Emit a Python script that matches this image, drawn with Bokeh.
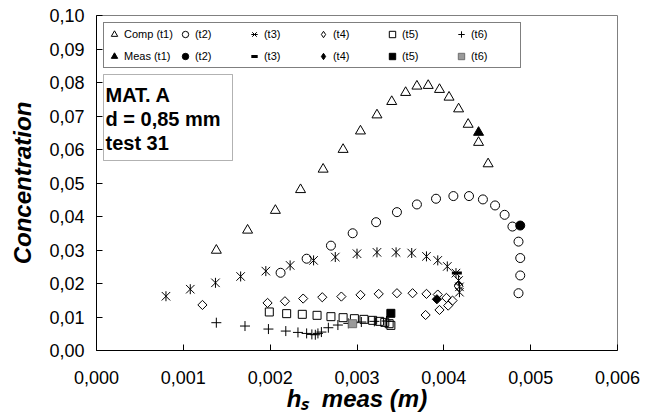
import math
from bokeh.plotting import figure
from bokeh.models import (FixedTicker, CustomJSTickFormatter, Legend, LegendItem,
                          Label, BoxAnnotation, Range1d)
from bokeh.embed import file_html
from bokeh.resources import INLINE

# ---------------- data ----------------
t1_x = [0.00138, 0.00174, 0.00206, 0.00235, 0.00261, 0.00284, 0.00304, 0.00323, 0.00340,
        0.00356, 0.00369, 0.00382, 0.00395, 0.00406, 0.00417, 0.00428, 0.00440, 0.00451]
t1_c = [0.0299, 0.0359, 0.0418, 0.0480, 0.0541, 0.0600, 0.0655, 0.0703, 0.0743,
        0.0770, 0.0789, 0.0791, 0.0779, 0.0756, 0.0721, 0.0675, 0.0621, 0.0557]

t2_x = [0.00212, 0.00242, 0.00270, 0.00295, 0.00322, 0.00346, 0.00369, 0.00391, 0.00411,
        0.00429, 0.00445, 0.00459, 0.00470, 0.00479, 0.00486, 0.00488, 0.00488, 0.00486]
t2_c = [0.0232, 0.0274, 0.0313, 0.0350, 0.0383, 0.0413, 0.0436, 0.0453, 0.0461,
        0.0461, 0.0451, 0.0433, 0.0405, 0.0370, 0.0325, 0.0276, 0.0224, 0.0171]

t3_x = [0.00080, 0.00108, 0.00137, 0.00166, 0.00195, 0.00223, 0.00250, 0.00275, 0.00300,
        0.00323, 0.00345, 0.00363, 0.00380, 0.00393, 0.00404, 0.00414, 0.00417, 0.00418, 0.00418]
t3_c = [0.0162, 0.0183, 0.0202, 0.0221, 0.0237, 0.0254, 0.0269, 0.0279, 0.0289,
        0.0293, 0.0293, 0.0291, 0.0281, 0.0269, 0.0251, 0.0231, 0.0209, 0.0190, 0.0174]

t4_x = [0.00122, 0.00197, 0.00217, 0.00238, 0.00260, 0.00282, 0.00304, 0.00325, 0.00346,
        0.00364, 0.00380, 0.00393, 0.00403, 0.00410, 0.00417, 0.00405, 0.00395, 0.00379]
t4_c = [0.0136, 0.0142, 0.0147, 0.0155, 0.0159, 0.0161, 0.0166, 0.0169, 0.0171,
        0.0171, 0.0169, 0.0167, 0.0157, 0.0149, 0.0192, 0.0134, 0.0121, 0.0106]

t5_x = [0.00199, 0.00219, 0.00237, 0.00254, 0.00270, 0.00284, 0.00297, 0.00308, 0.00318,
        0.00326, 0.00332, 0.00337, 0.00339]
t5_c = [0.0115, 0.0110, 0.0108, 0.0105, 0.0101, 0.0098, 0.0095, 0.0093, 0.0090,
        0.0087, 0.0084, 0.0080, 0.0075]

t6_x = [0.00138, 0.00171, 0.00198, 0.00218, 0.00232, 0.00242, 0.00248, 0.00252, 0.00255,
        0.00259, 0.00267, 0.00278, 0.00290, 0.00305, 0.00320, 0.00334]
t6_c = [0.0083, 0.0073, 0.0064, 0.0058, 0.0054, 0.0051, 0.0048, 0.0047, 0.0051,
        0.0055, 0.0068, 0.0076, 0.0081, 0.0085, 0.0087, 0.0088]

# measured points, one per time step t1..t6
meas_x = [0.00440, 0.00488, 0.00415, 0.00392, 0.00339, 0.00295]
meas_c = [0.0651, 0.0373, 0.0231, 0.0153, 0.0111, 0.0080]

comp_labels = ["Comp (t1)", "(t2)", "(t3)", "(t4)", "(t5)", "(t6)"]
meas_labels = ["Meas (t1)", "(t2)", "(t3)", "(t4)", "(t5)", "(t6)"]

x_ticks = [0.000, 0.001, 0.002, 0.003, 0.004, 0.005, 0.006]
y_ticks = [0.00, 0.01, 0.02, 0.03, 0.04, 0.05, 0.06, 0.07, 0.08, 0.09, 0.10]

info_lines = ["MAT. A", "d = 0,85 mm", "test 31"]
x_title = "h\u209b\u00a0 meas (m)"
y_title = "Concentration"

# ---------------- layout ----------------
W, H = 653, 418
FL, FR, FT, FB = 96, 36, 15, 68
XMAX, YMAX = 0.006, 0.10
FW, FH = W - FL - FR, H - FT - FB
FONT = "Liberation Sans"


def px2x(px):
    return (px - FL) / FW * XMAX


def px2y(py):
    return (H - FB - py) / FH * YMAX


p = figure(width=W, height=H, output_backend="svg", toolbar_location=None,
           x_range=Range1d(0, XMAX), y_range=Range1d(0, YMAX),
           min_border_left=FL, min_border_right=FR, min_border_top=FT, min_border_bottom=FB)
p.background_fill_color = "white"
p.border_fill_color = "white"
p.outline_line_color = "#808080"
p.xgrid.visible = False
p.ygrid.visible = False

for ax in (p.xaxis[0], p.yaxis[0]):
    ax.axis_line_color = "black"
    ax.major_tick_line_color = "black"
    ax.minor_tick_line_color = None
    ax.major_tick_in = 6
    ax.major_tick_out = 0
    ax.major_label_text_font = FONT
    ax.major_label_text_font_size = "18px"
    ax.major_label_text_color = "black"
    ax.axis_label_text_font = FONT
    ax.axis_label_text_font_size = "24px"
    ax.axis_label_text_font_style = "bold italic"
    ax.axis_label_text_color = "black"

p.xaxis.ticker = FixedTicker(ticks=x_ticks)
p.yaxis.ticker = FixedTicker(ticks=y_ticks)
p.xaxis.formatter = CustomJSTickFormatter(code="return tick.toFixed(3).replace('.', ',');")
p.yaxis.formatter = CustomJSTickFormatter(code="return tick.toFixed(2).replace('.', ',');")
p.xaxis.major_label_standoff = 20
p.yaxis.major_label_standoff = 12

p.yaxis.axis_label = y_title
p.yaxis.axis_label_standoff = 10
p.xaxis.axis_label = x_title
p.xaxis.axis_label_standoff = -2

# ---------------- series ----------------
common = dict(line_color="black", line_width=1)
r1 = p.scatter(t1_x, t1_c, marker="triangle", size=10, fill_color=None, **common)
r2 = p.scatter(t2_x, t2_c, marker="circle", size=9, fill_color=None, **common)
r3a = p.scatter(t3_x, t3_c, marker="x", size=12, **common)
r3b = p.scatter(t3_x, t3_c, marker="dash", angle=math.pi / 2, size=10, **common)
r4 = p.scatter(t4_x, t4_c, marker="square", angle=math.pi / 4, size=6.5, fill_color=None, **common)
r5 = p.scatter(t5_x, t5_c, marker="square", size=8, fill_color=None, **common)
r6 = p.scatter(t6_x, t6_c, marker="cross", size=10, **common)

m1 = p.scatter(meas_x[0:1], meas_c[0:1], marker="triangle", size=10, fill_color="black", **common)
m2 = p.scatter(meas_x[1:2], meas_c[1:2], marker="circle", size=9, fill_color="black", **common)
m3 = p.scatter(meas_x[2:3], meas_c[2:3], marker="dash", size=10, line_color="black", line_width=3)
m4 = p.scatter(meas_x[3:4], meas_c[3:4], marker="square", angle=math.pi / 4, size=6.5,
               fill_color="black", **common)
m5 = p.scatter(meas_x[4:5], meas_c[4:5], marker="square", size=8, fill_color="black", **common)
m6 = p.scatter(meas_x[5:6], meas_c[5:6], marker="square", size=8, fill_color="#9a9a9a",
               line_color="#6e6e6e", line_width=1)

# zero-size stand-ins so that the legend shows a diamond (legend glyphs ignore angle)
r4_leg = p.scatter(t4_x, t4_c, marker="diamond", size=0, fill_color=None, **common)
m4_leg = p.scatter(meas_x[3:4], meas_c[3:4], marker="diamond", size=0, fill_color="black", **common)

comp_r = [[r1], [r2], [r3a, r3b], [r4_leg], [r5], [r6]]
meas_r = [[m1], [m2], [m3], [m4_leg], [m5], [m6]]
items = []
for i in range(6):
    items.append(LegendItem(label=comp_labels[i], renderers=comp_r[i]))
    items.append(LegendItem(label=meas_labels[i], renderers=meas_r[i]))

legend = Legend(items=items, orientation="vertical", nrows=2, location="top_left",
                margin=7, padding=2, spacing=4,
                glyph_width=16, glyph_height=18, label_height=18, label_width=47,
                label_standoff=2, label_text_font=FONT, label_text_font_size="11px",
                label_text_color="black",
                border_line_color="black", border_line_width=1,
                background_fill_color="white", background_fill_alpha=1.0)
p.add_layout(legend)

# ---------------- info box ----------------
box = BoxAnnotation(left=px2x(103), right=px2x(232), top=px2y(74), bottom=px2y(160),
                    fill_color="white", fill_alpha=1.0, line_color="black", line_width=1)
p.add_layout(box)
for k, line in enumerate(info_lines):
    p.add_layout(Label(x=px2x(105), y=px2y(94.5 + 24 * k), text=line,
                       text_font=FONT, text_font_size="20px", text_font_style="bold",
                       text_baseline="alphabetic", text_align="left", text_color="black"))

open("out.html", "w").write(file_html(p, INLINE))
